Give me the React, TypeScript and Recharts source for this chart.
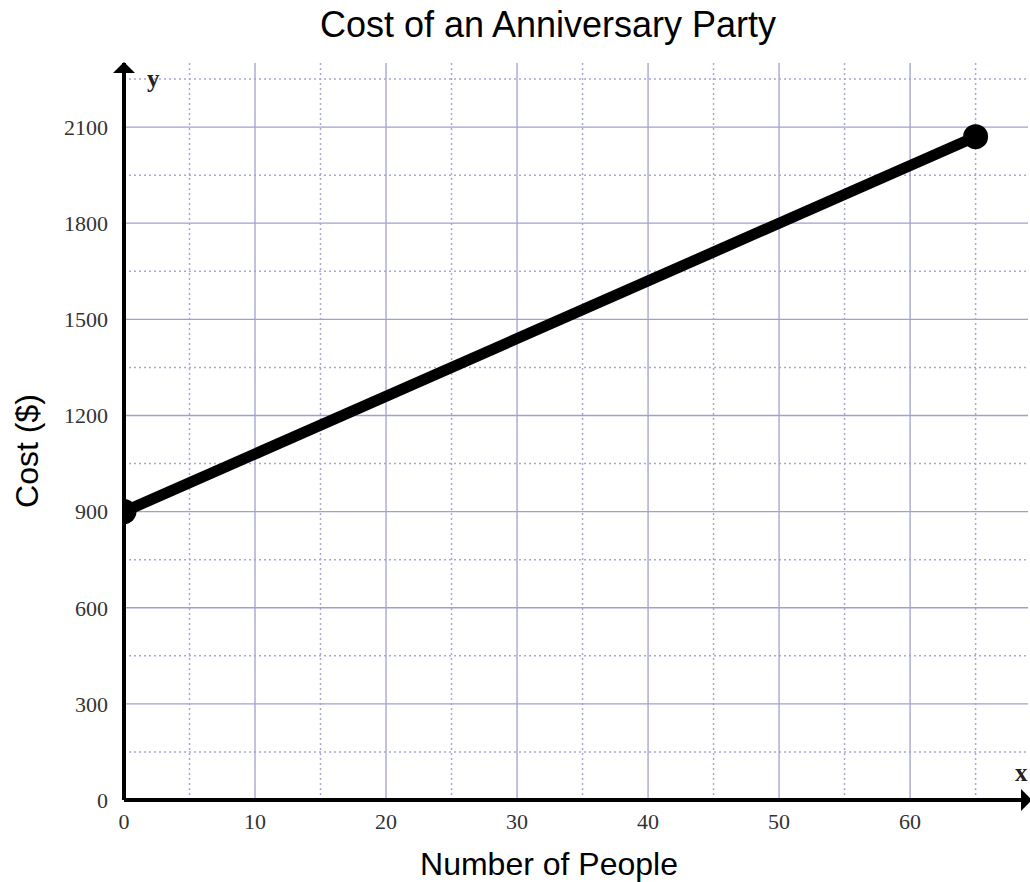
import React from 'react';
import { LineChart, Line, XAxis, YAxis, CartesianGrid, ReferenceDot } from 'recharts';

const people = [0, 65];
const cost = [900, 2070];

const xTicks = [0, 10, 20, 30, 40, 50, 60];
const yTicks = [0, 300, 600, 900, 1200, 1500, 1800, 2100];
const xMajor = [10, 20, 30, 40, 50, 60];
const xMinor = [5, 15, 25, 35, 45, 55, 65];
const yMajor = [300, 600, 900, 1200, 1500, 1800, 2100];
const yMinor = [150, 450, 750, 1050, 1350, 1650, 1950, 2250];

const data = people.map((p, i) => ({ people: p, cost: cost[i] }));

const serif = '"Liberation Serif", serif';
const sans = '"Liberation Sans", Arial, sans-serif';
const tickStyle = { fontFamily: serif, fontSize: 22, fill: '#333' };

const UpArrow = (props: any) => {
  const { cx, cy } = props;
  return (
    <g>
      <polygon points={`${cx},${cy - 1} ${cx - 11},${cy + 10} ${cx + 11},${cy + 10}`} fill="#000" />
      <text x={cx + 23} y={cy + 24} fontFamily={serif} fontWeight="bold" fontSize={25} fill="#222">y</text>
    </g>
  );
};

const RightArrow = (props: any) => {
  const { cx, cy } = props;
  return (
    <g>
      <polygon points={`${cx + 4},${cy} ${cx - 7},${cy - 11} ${cx - 7},${cy + 11}`} fill="#000" />
      <text x={cx - 13} y={cy - 19} fontFamily={serif} fontWeight="bold" fontSize={25} fill="#222">x</text>
    </g>
  );
};

export default function App() {
  return (
    <div style={{ position: 'absolute', left: 0, top: 0, width: 1030, height: 882, background: '#fff', overflow: 'hidden' }}>
      <div style={{ position: 'absolute', left: 0, width: 1096, top: 4, textAlign: 'center', fontFamily: sans, fontSize: 36, color: '#000', whiteSpace: 'nowrap' }}>
        Cost of an Anniversary Party
      </div>
      <div style={{ position: 'absolute', left: 0, width: 1098, top: 846, textAlign: 'center', fontFamily: sans, fontSize: 32, color: '#000', whiteSpace: 'nowrap' }}>
        Number of People
      </div>
      <div style={{ position: 'absolute', left: 27, top: 451, transform: 'translate(-50%, -50%) rotate(-90deg)', whiteSpace: 'nowrap', fontFamily: sans, fontSize: 32, color: '#000' }}>
        Cost ($)
      </div>
      <LineChart width={1030} height={882} data={data} margin={{ top: 63, right: 2, left: 0, bottom: 0 }}>
        <CartesianGrid horizontal={false} vertical verticalValues={xMinor} stroke="#a8a8d8" strokeDasharray="2 3" strokeWidth={1.5} />
        <CartesianGrid vertical={false} horizontal horizontalValues={yMinor} stroke="#a8a8d8" strokeDasharray="2 3" strokeWidth={1.5} />
        <CartesianGrid verticalValues={xMajor} horizontalValues={yMajor} stroke="#a0a0d0" strokeWidth={1.3} />
        <XAxis
          dataKey="people"
          type="number"
          domain={[0, 69]}
          ticks={xTicks}
          height={82}
          axisLine={{ stroke: '#000', strokeWidth: 4 }}
          tickLine={false}
          tick={tickStyle}
          tickMargin={7}
          allowDataOverflow
        />
        <YAxis
          dataKey="cost"
          type="number"
          domain={[0, 2300]}
          ticks={yTicks}
          width={124}
          axisLine={{ stroke: '#000', strokeWidth: 4 }}
          tickLine={false}
          tick={tickStyle}
          tickMargin={10}
          allowDataOverflow
        />
        <Line
          type="linear"
          dataKey="cost"
          stroke="#000"
          strokeWidth={11}
          dot={{ r: 7, fill: '#000', stroke: '#000' }}
          isAnimationActive={false}
        />
        <ReferenceDot x={0} y={2300} shape={UpArrow} ifOverflow="visible" />
        <ReferenceDot x={69} y={0} shape={RightArrow} ifOverflow="visible" />
      </LineChart>
    </div>
  );
}
